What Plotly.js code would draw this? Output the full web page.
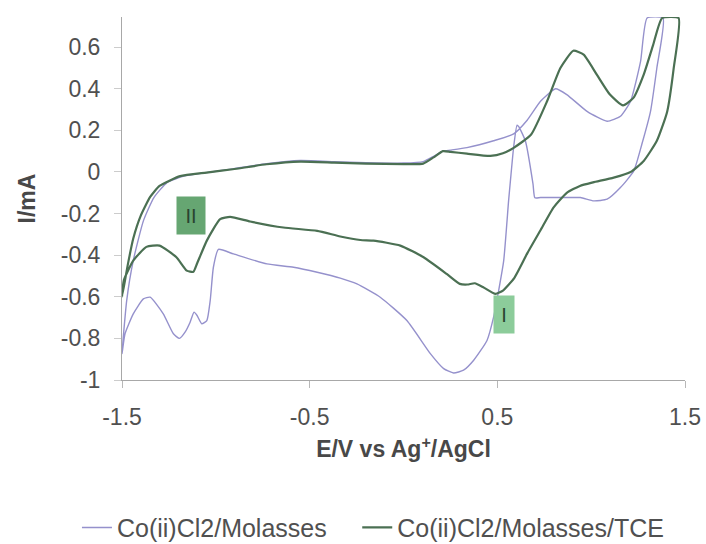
<!DOCTYPE html>
<html>
<head>
<meta charset="utf-8">
<script src="https://cdn.plot.ly/plotly-3.0.1.min.js"></script>
<style>html,body{margin:0;padding:0;background:#fff;}#chart{width:706px;height:544px;}</style>
</head>
<body>
<div id="chart"></div>
<script>
// Series 1: Co(ii)Cl2/Molasses (closed CV loop)
const molassesE = [-1.5, -1.475, -1.44, -1.386, -1.33, -1.26, -1.17, -1.05, -0.91, -0.73, -0.55, -0.37, -0.2, 0.0, 0.105, 0.16, 0.21, 0.25, 0.338, 0.48, 0.587, 0.66, 0.73, 0.81, 0.87, 0.98, 1.085, 1.156, 1.21, 1.263, 1.298,
  1.383, 1.35, 1.316, 1.27, 1.227, 1.156, 1.085, 1.014, 0.943, 0.87, 0.73, 0.70, 0.69, 0.65, 0.614, 0.605, 0.587, 0.57, 0.56, 0.534, 0.507, 0.48, 0.445, 0.374, 0.32, 0.267, 0.214, 0.143, 0.018, -0.124, -0.248, -0.337, -0.46, -0.586, -0.728, -0.906, -0.986, -1.013, -1.03, -1.048, -1.075, -1.10, -1.116, -1.137, -1.164, -1.194, -1.226, -1.28, -1.35, -1.386, -1.44, -1.484, -1.5];
const molassesI = [-0.873, -0.618, -0.426, -0.235, -0.123, -0.051, -0.02, -0.003, 0.015, 0.04, 0.055, 0.05, 0.045, 0.043, 0.05, 0.075, 0.10, 0.105, 0.117, 0.15, 0.183, 0.25, 0.34, 0.40, 0.372, 0.29, 0.244, 0.268, 0.34, 0.53, 0.74,
  0.74, 0.50, 0.29, 0.133, 0.005, -0.075, -0.131, -0.139, -0.123, -0.123, -0.123, -0.124, -0.057, 0.148, 0.218, 0.225, 0.12, -0.04, -0.139, -0.426, -0.57, -0.698, -0.81, -0.905, -0.953, -0.966, -0.945, -0.873, -0.714, -0.602, -0.538, -0.51, -0.482, -0.458, -0.442, -0.394, -0.372, -0.458, -0.618, -0.714, -0.73, -0.69, -0.674, -0.722, -0.77, -0.80, -0.778, -0.682, -0.602, -0.61, -0.682, -0.778, -0.873];

// Series 2: Co(ii)Cl2/Molasses/TCE (closed CV loop)
const tceE = [-1.5, -1.47, -1.44, -1.40, -1.35, -1.30, -1.19, -1.05, -0.91, -0.73, -0.55, -0.37, -0.2, 0.0, 0.105, 0.16, 0.21, 0.25, 0.338, 0.463, 0.53, 0.587, 0.68, 0.765, 0.836, 0.905, 0.96, 1.03, 1.10, 1.17, 1.225, 1.28, 1.33, 1.378,
  1.466, 1.44, 1.405, 1.35, 1.28, 1.21, 1.12, 1.01, 0.94, 0.87, 0.80, 0.73, 0.66, 0.59, 0.53, 0.49, 0.425, 0.38, 0.34, 0.30, 0.23, 0.107, -0.017, -0.16, -0.23, -0.337, -0.46, -0.64, -0.817, -0.924, -0.977, -1.048, -1.10, -1.12, -1.155, -1.21, -1.30, -1.37, -1.44, -1.49, -1.5];
const tceI = [-0.60, -0.45, -0.32, -0.21, -0.12, -0.067, -0.02, -0.003, 0.013, 0.037, 0.05, 0.045, 0.04, 0.038, 0.04, 0.07, 0.10, 0.097, 0.088, 0.077, 0.09, 0.116, 0.18, 0.34, 0.50, 0.583, 0.564, 0.468, 0.372, 0.32, 0.356, 0.468, 0.61, 0.74,
  0.74, 0.50, 0.29, 0.15, 0.053, 0.0, -0.027, -0.05, -0.067, -0.10, -0.17, -0.28, -0.39, -0.51, -0.57, -0.586, -0.554, -0.535, -0.541, -0.538, -0.49, -0.41, -0.354, -0.33, -0.327, -0.31, -0.283, -0.267, -0.238, -0.216, -0.227, -0.33, -0.44, -0.48, -0.474, -0.41, -0.354, -0.36, -0.426, -0.52, -0.60];

const seriesNames = ["Co(ii)Cl2/Molasses", "Co(ii)Cl2/Molasses/TCE"];
const xTicks = [-1.5, -0.5, 0.5, 1.5];
const yTicks = [-1, -0.8, -0.6, -0.4, -0.2, 0, 0.2, 0.4, 0.6];
const peakLabels = ["II", "I"];
const peakLabelE = [-1.132, 0.537];
const peakLabelI = [-0.211, -0.685];

const traces = [
  {x: molassesE, y: molassesI, name: seriesNames[0], mode: "lines", legend: "legend",
   line: {color: "#9591cc", width: 1.4, shape: "spline", smoothing: 0.5}},
  {x: tceE, y: tceI, name: seriesNames[1], mode: "lines", legend: "legend2",
   line: {color: "#4b7053", width: 2.2, shape: "spline", smoothing: 0.5}}
];

const labelColors = ["#66a672", "#8ccc9a"];
const annotations = peakLabels.map((t, i) => ({
  x: peakLabelE[i], y: peakLabelI[i], xref: "x", yref: "y",
  text: t, showarrow: false, bgcolor: labelColors[i], borderpad: 1,
  width: i === 0 ? 26 : 18, height: 35,
  font: {family: "Liberation Sans Narrow, Liberation Sans, Arial", size: 20, color: "#2a4430"}
}));

const legendStyle = {orientation: "h", xref: "container", yref: "container", y: 0.03,
  xanchor: "left", yanchor: "middle", font: {size: 25, color: "#505050"}, bgcolor: "rgba(0,0,0,0)"};

const layout = {
  width: 706, height: 544,
  margin: {l: 122, r: 21, t: 17, b: 164},
  paper_bgcolor: "#ffffff", plot_bgcolor: "#ffffff",
  font: {family: "Liberation Sans, Arial, sans-serif", size: 23, color: "#505050"},
  xaxis: {
    range: [-1.5, 1.5], tickvals: xTicks, ticktext: xTicks.map(String),
    showgrid: false, zeroline: false, showline: true, linecolor: "#a8a8a8", linewidth: 1,
    ticks: "outside", ticklen: 7, tickcolor: "#b8b8b8", ticklabelstandoff: 9,
    tickfont: {size: 23, color: "#505050"},
    title: {text: "<b>E/V vs Ag<sup>+</sup>/AgCl</b>", font: {size: 23, color: "#484848"}, standoff: 12}
  },
  yaxis: {
    range: [-1, 0.745], tickvals: yTicks, ticktext: yTicks.map(String),
    showgrid: false, zeroline: false, showline: true, linecolor: "#a8a8a8", linewidth: 1,
    ticks: "outside", ticklen: 7, tickcolor: "#cccccc", ticklabelstandoff: 9,
    tickfont: {size: 23, color: "#505050"},
    title: {text: "<b>I/mA</b>", font: {size: 23, color: "#484848"}, standoff: 18}
  },
  showlegend: true,
  legend: Object.assign({}, legendStyle, {x: 0.109}),
  legend2: Object.assign({}, legendStyle, {x: 0.506}),
  annotations: annotations
};

Plotly.newPlot("chart", traces, layout, {displayModeBar: false, staticPlot: true});
</script>
</body>
</html>
